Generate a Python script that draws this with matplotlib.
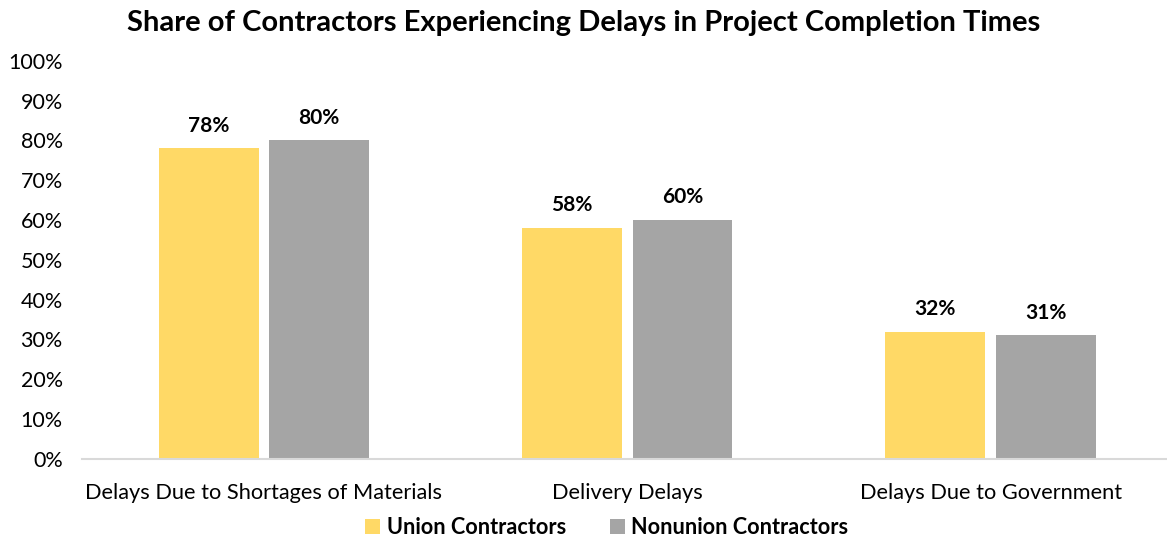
import matplotlib.pyplot as plt
import numpy as np

categories = ['Delays Due to Shortages of Materials', 'Delivery Delays', 'Delays Due to Government']
union = [78, 58, 32]
nonunion = [80, 60, 31]
series_names = ['Union Contractors', 'Nonunion Contractors']
yticks = [0, 10, 20, 30, 40, 50, 60, 70, 80, 90, 100]

plt.rcParams['font.family'] = ['Lato', 'DejaVu Sans']

fig = plt.figure(figsize=(11.67, 5.38), dpi=100)
ax = fig.add_axes([0.0705, 0.147, 0.934, 0.740])

x = np.arange(len(categories))
w = 0.275
off = 0.152
b1 = ax.bar(x - off, union, w, color='#FFD966', label=series_names[0])
b2 = ax.bar(x + off, nonunion, w, color='#A5A5A5', label=series_names[1])

for bars in (b1, b2):
    for b in bars:
        ax.text(b.get_x() + b.get_width() / 2, b.get_height() + 3.2, f'{b.get_height():.0f}%',
                ha='center', va='bottom', fontsize=15, fontweight='bold')

ax.set_xlim(-0.5, 2.5)
ax.set_ylim(0, 100)
ax.set_yticks(yticks)
ax.set_yticklabels([f'{t}%' for t in yticks], fontsize=15.5)
ax.set_xticks(x)
ax.set_xticklabels(categories, fontsize=15.7)
ax.tick_params(axis='y', length=0, pad=14)
ax.tick_params(axis='x', length=0, pad=17)
for s in ['top', 'right', 'left']:
    ax.spines[s].set_visible(False)
ax.spines['bottom'].set_color('#D9D9D9')
ax.spines['bottom'].set_linewidth(1.5)

fig.suptitle('Share of Contractors Experiencing Delays in Project Completion Times',
             fontsize=21, fontweight='bold', y=0.982)

leg = fig.legend(handles=[b1, b2], loc='lower center', bbox_to_anchor=(0.52, -0.036), ncol=2,
                 frameon=False, prop={'size': 15.6, 'weight': 'bold'},
                 handlelength=0.7, handleheight=0.7, handletextpad=0.3, columnspacing=2.0)

fig.savefig('out.png', dpi=100)
